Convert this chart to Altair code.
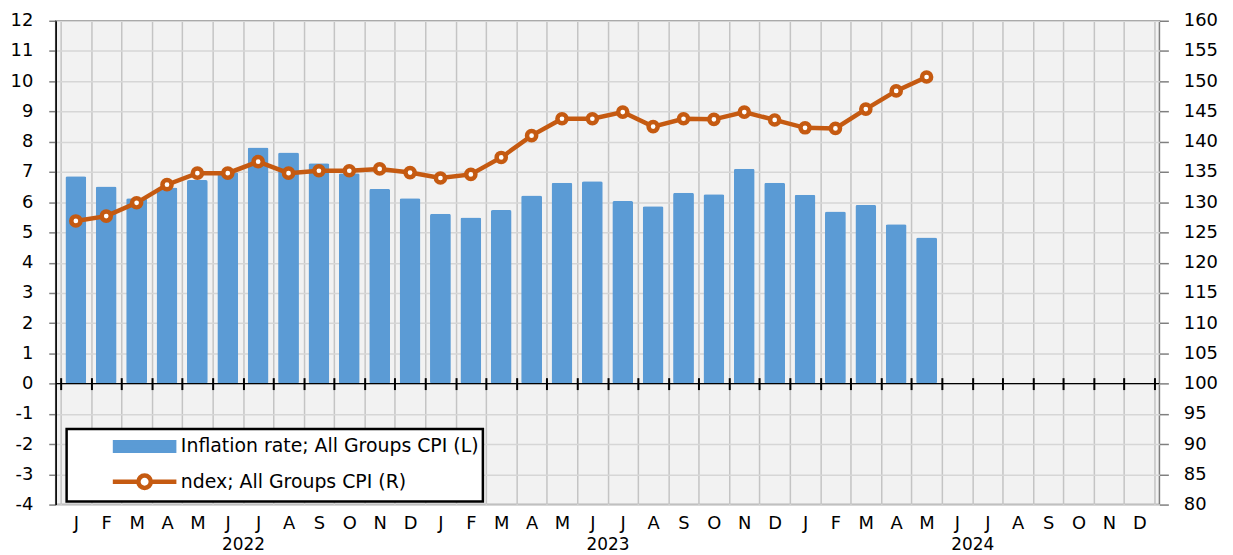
import json
import altair as alt
import pandas as pd

# ---------------- data ----------------
MONTH_LETTERS = ["J", "F", "M", "A", "M", "J", "J", "A", "S", "O", "N", "D"]
YEARS = ["2022", "2023", "2024"]
MONTHS = [f"{y}-{m:02d}" for y in YEARS for m in range(1, 13)]

INFLATION = [6.86, 6.52, 6.13, 6.49, 6.73, 6.99, 7.81, 7.64, 7.29, 6.96, 6.44, 6.13,
             5.62, 5.49, 5.74, 6.22, 6.64, 6.69, 6.04, 5.87, 6.31, 6.26, 7.11, 6.64,
             6.25, 5.69, 5.91, 5.27, 4.83]
CPI = [126.9, 127.7, 129.9, 132.9, 134.8, 134.8, 136.7, 134.8, 135.2, 135.2, 135.5, 134.9,
       134.0, 134.6, 137.4, 141.0, 143.8, 143.8, 144.9, 142.5, 143.8, 143.7, 144.9, 143.6,
       142.3, 142.2, 145.4, 148.4, 150.7]
SERIES = ["Inflation rate; All Groups CPI (L)", "ndex; All Groups CPI (R)"]

LEFT_TICKS = list(range(-4, 13))
RIGHT_TICKS = list(range(80, 161, 5))

# ---------------- styles ----------------
BLUE = "#5b9bd5"
ORANGE = "#c55a11"
FONT = "DejaVu Sans"
W, H = 1111, 487

n_months = len(MONTHS)
df = pd.DataFrame({"month": MONTHS[:len(INFLATION)], "inflation": INFLATION, "cpi": CPI})
df["idx"] = range(len(df))
legend_df = pd.DataFrame({"series": SERIES})

XS = alt.Scale(domain=[0, n_months], nice=False, zero=False)
YL = alt.Scale(domain=[LEFT_TICKS[0], LEFT_TICKS[-1]], nice=False)
YR = alt.Scale(domain=[RIGHT_TICKS[0], RIGHT_TICKS[-1]], nice=False, zero=False)

zero_px = H * LEFT_TICKS[-1] / (LEFT_TICKS[-1] - LEFT_TICKS[0])

month_axis = alt.Axis(orient="bottom", values=[i + 0.5 for i in range(n_months)],
                      labelExpr=json.dumps(MONTH_LETTERS) + "[floor(datum.value) % 12]",
                      ticks=False, domain=False, grid=False, labelPadding=10,
                      labelFlush=False, labelOverlap=False, title=None)
year_axis = alt.Axis(orient="bottom", values=[6 + 12 * i for i in range(len(YEARS))],
                     labelExpr=json.dumps(YEARS) + "[floor(datum.value / 12)]",
                     ticks=False, domain=False, grid=False, labelPadding=32,
                     labelFontSize=17,
                     labelFlush=False, labelOverlap=False, title=None)
grid_axis = alt.Axis(orient="bottom", values=list(range(n_months + 1)), grid=True,
                     gridColor="#c4c4c4", gridWidth=1.5, ticks=False, labels=False,
                     domain=False, title=None)
tick_axis = alt.Axis(orient="bottom", values=list(range(n_months + 1)), grid=False,
                     ticks=True, tickSize=12, tickColor="black", tickWidth=2,
                     labels=False, domain=False, offset=-(H - zero_px + 6), title=None,
                     zindex=1)
left_axis = alt.Axis(orient="left", values=LEFT_TICKS, grid=True, gridColor="#d6d6d6",
                     gridWidth=1.5, tickSize=7, tickColor="#7f7f7f", tickWidth=1.5,
                     domainColor="black", domainWidth=1.5, labelPadding=16,
                     labelExpr="'' + datum.value", labelOverlap=False,
                     labelFlush=False, title=None)
right_axis = alt.Axis(orient="right", values=RIGHT_TICKS, grid=False, tickSize=9,
                      tickColor="#7f7f7f", tickWidth=1.5, domain=False, labelPadding=15,
                      labelExpr="'' + datum.value", labelOverlap=False,
                      labelFlush=False, title=None)

base = alt.Chart(df).transform_calculate(mid="datum.idx + 0.5")

bars = base.mark_bar(size=21, color=BLUE, cornerRadius=2).encode(
    x=alt.X("mid:Q", scale=XS, axis=month_axis),
    y=alt.Y("inflation:Q", scale=YL, axis=left_axis),
)
zero_rule = alt.Chart(df).transform_filter("datum.idx == 0").transform_calculate(
    zero="0").mark_rule(color="black", strokeWidth=1.5).encode(
    y=alt.Y("zero:Q", scale=YL, axis=left_axis))
left_group = alt.layer(bars, zero_rule)

line = base.mark_line(color=ORANGE, strokeWidth=4.5).encode(
    x=alt.X("mid:Q", scale=XS, axis=grid_axis),
    y=alt.Y("cpi:Q", scale=YR, axis=right_axis),
)
points = base.mark_point(shape="circle", filled=True, fill="white", stroke=ORANGE,
                         strokeWidth=4.5, size=85, opacity=1).encode(
    x=alt.X("mid:Q", scale=XS, axis=tick_axis),
    y=alt.Y("cpi:Q", scale=YR, axis=right_axis),
)
right_group = alt.layer(line, points).resolve_axis(x="independent")

RECT_PATH = "M-2.705,-0.386H2.705V0.386H-2.705Z"
RING_PATH = ("M-2.909,0H-0.568M0.568,0H2.909"
             "M0.568,0A0.568,0.568,0,1,1,-0.568,0A0.568,0.568,0,1,1,0.568,0Z")

LEG = alt.Legend(title=None, orient="none", legendX=11, legendY=411, direction="vertical",
                 symbolSize=484, symbolStrokeWidth=4.5, symbolOffset=61, labelOffset=23,
                 labelFont=FONT, labelFontSize=19, labelColor="black", labelLimit=800,
                 padding=4, rowPadding=6.5, strokeColor="black", fillColor="white")

legend_layer = alt.Chart(legend_df).transform_filter("false").mark_point(
    filled=True, opacity=1, strokeWidth=4.5).encode(
    x=alt.X("pos:Q", scale=XS, axis=year_axis),
    fill=alt.Fill("series:N", scale=alt.Scale(domain=SERIES, range=[BLUE, "white"]), legend=LEG),
    stroke=alt.Stroke("series:N", scale=alt.Scale(domain=SERIES, range=[BLUE, ORANGE]), legend=LEG),
    shape=alt.Shape("series:N", scale=alt.Scale(domain=SERIES, range=[RECT_PATH, RING_PATH]), legend=LEG),
)

chart = alt.layer(left_group, right_group, legend_layer).resolve_scale(
    y="independent").resolve_axis(x="independent").properties(
    width=W, height=H,
    autosize=alt.AutoSizeParams(type="none"),
    padding={"left": 48, "top": 11, "right": 66, "bottom": 64},
).configure_axis(
    labelFont=FONT, labelFontSize=18, labelColor="black"
).configure_view(
    fill="#f2f2f2", stroke="#7f7f7f", strokeWidth=1.5
).configure_legend(strokeWidth=2.5)

chart.save("out.html", embed_options={"renderer": "svg", "actions": False})
